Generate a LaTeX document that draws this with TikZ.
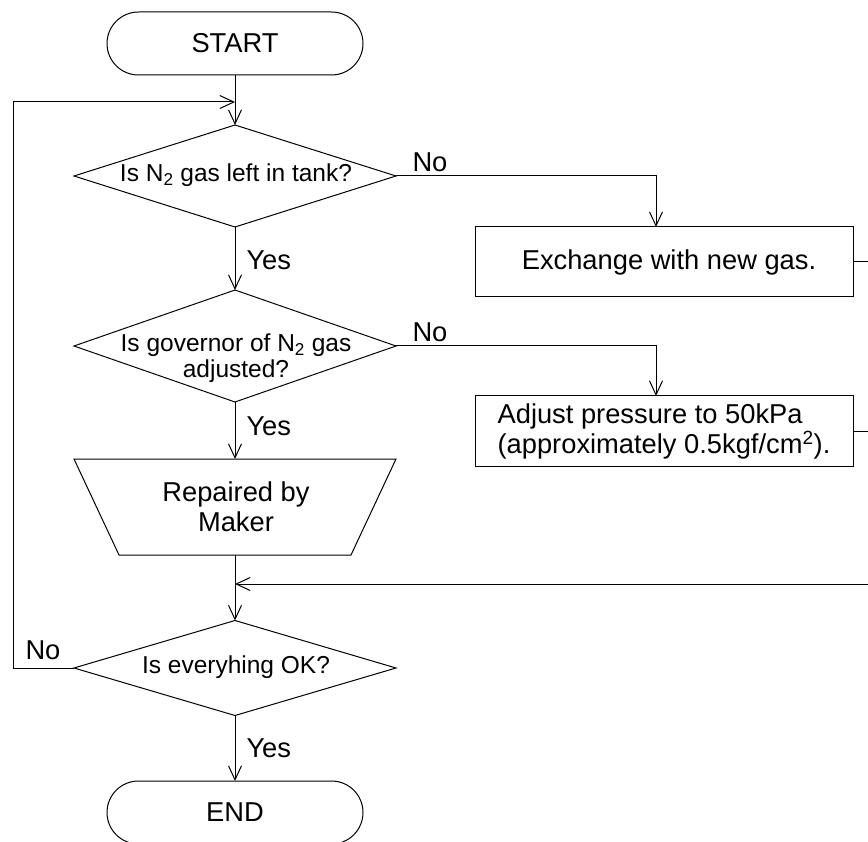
\documentclass[tikz,border=0pt]{standalone}
\usepackage{fontspec}
\setmainfont{Liberation Sans}
\usetikzlibrary{arrows.meta,shapes.geometric}
\begin{document}
\begin{tikzpicture}[x=1pt,y=-1pt,
  line width=1pt,
  bigtxt/.style={font=\fontsize{27.3}{30}\selectfont},
  dtxt/.style={font=\fontsize{24.5}{26}\selectfont},
  term/.style={draw, rounded corners=31.5pt, minimum width=256pt, minimum height=63pt, inner sep=0pt, outer sep=0pt, bigtxt},
  procbox/.style={draw, minimum width=378pt, minimum height=70pt, inner sep=0pt, outer sep=0pt, bigtxt},
  decision/.style={draw, diamond, minimum width=322pt, inner sep=0pt, outer sep=0pt},
  lbl/.style={inner sep=0pt, anchor=west, bigtxt},
  arr/.style={-{Straight Barb[length=14pt,width=13pt,line width=1pt]}}
]
\useasboundingbox (0,0) rectangle (868,842);
\clip (0,0) rectangle (868,842);

% nodes
\node[term] (start) at (235,43.5) {START};
\node[decision, minimum height=102pt] (d1) at (235,176) {};
\node[dtxt] (d1t) at (236,175) {Is N\textsubscript{2} gas left in tank?};
\node[procbox] (ex) at (664,262) {\hspace*{10pt}Exchange with new gas.};
\node[decision, minimum height=112pt] (d2) at (235,346) {};
\node[dtxt, align=center] (d2t) at (236,358) {Is governor of N\textsubscript{2} gas\\adjusted?};
\node[procbox, align=left] (adj) at (664,431) {Adjust pressure to 50kPa\\(approximately 0.5kgf/cm\textsuperscript{2}).};
\draw (74,459) -- (396,459) -- (351,555) -- (119,555) -- cycle;
\coordinate (rptop) at (235,459);
\coordinate (rpbot) at (235,555);
\node[bigtxt, align=center] (rp) at (236,507) {Repaired by\\Maker};
\node[decision, minimum height=95pt] (d3) at (235,668) {};
\node[dtxt] (d3t) at (236,667) {Is everyhing OK?};
\node[term] (end) at (235,812.5) {END};

% helper coordinates
\coordinate (loopin) at (235,102);
\coordinate (loopx) at (13,0);
\coordinate (exin) at (656,227);
\coordinate (adjin) at (656,396);
\coordinate (merge) at (235,584);
\coordinate (rx) at (890,0);

% connectors
\draw[arr] (start.south) -- (d1.north);
\draw[arr] (d3.west) -| (loopx |- loopin) -- (loopin);
\draw[arr] (d1.east) -| (exin);
\draw[arr] (d1.south) -- (d2.north);
\draw[arr] (d2.east) -| (adjin);
\draw[arr] (d2.south) -- (rptop);
\draw[arr] (rpbot) -- (d3.north);
\draw (ex.east) -| (rx |- merge);
\draw (adj.east) -| (rx |- merge);
\draw[arr] (rx |- merge) -- (merge);
\draw[arr] (d3.south) -- (end.north);

% labels
\node[lbl] (no1) at (412,162) {No};
\node[lbl] (yes1) at (246,260) {Yes};
\node[lbl] (no2) at (412,332) {No};
\node[lbl] (yes2) at (246,426) {Yes};
\node[lbl] (no3) at (25,650) {No};
\node[lbl] (yes3) at (246,748) {Yes};
\end{tikzpicture}
\end{document}
